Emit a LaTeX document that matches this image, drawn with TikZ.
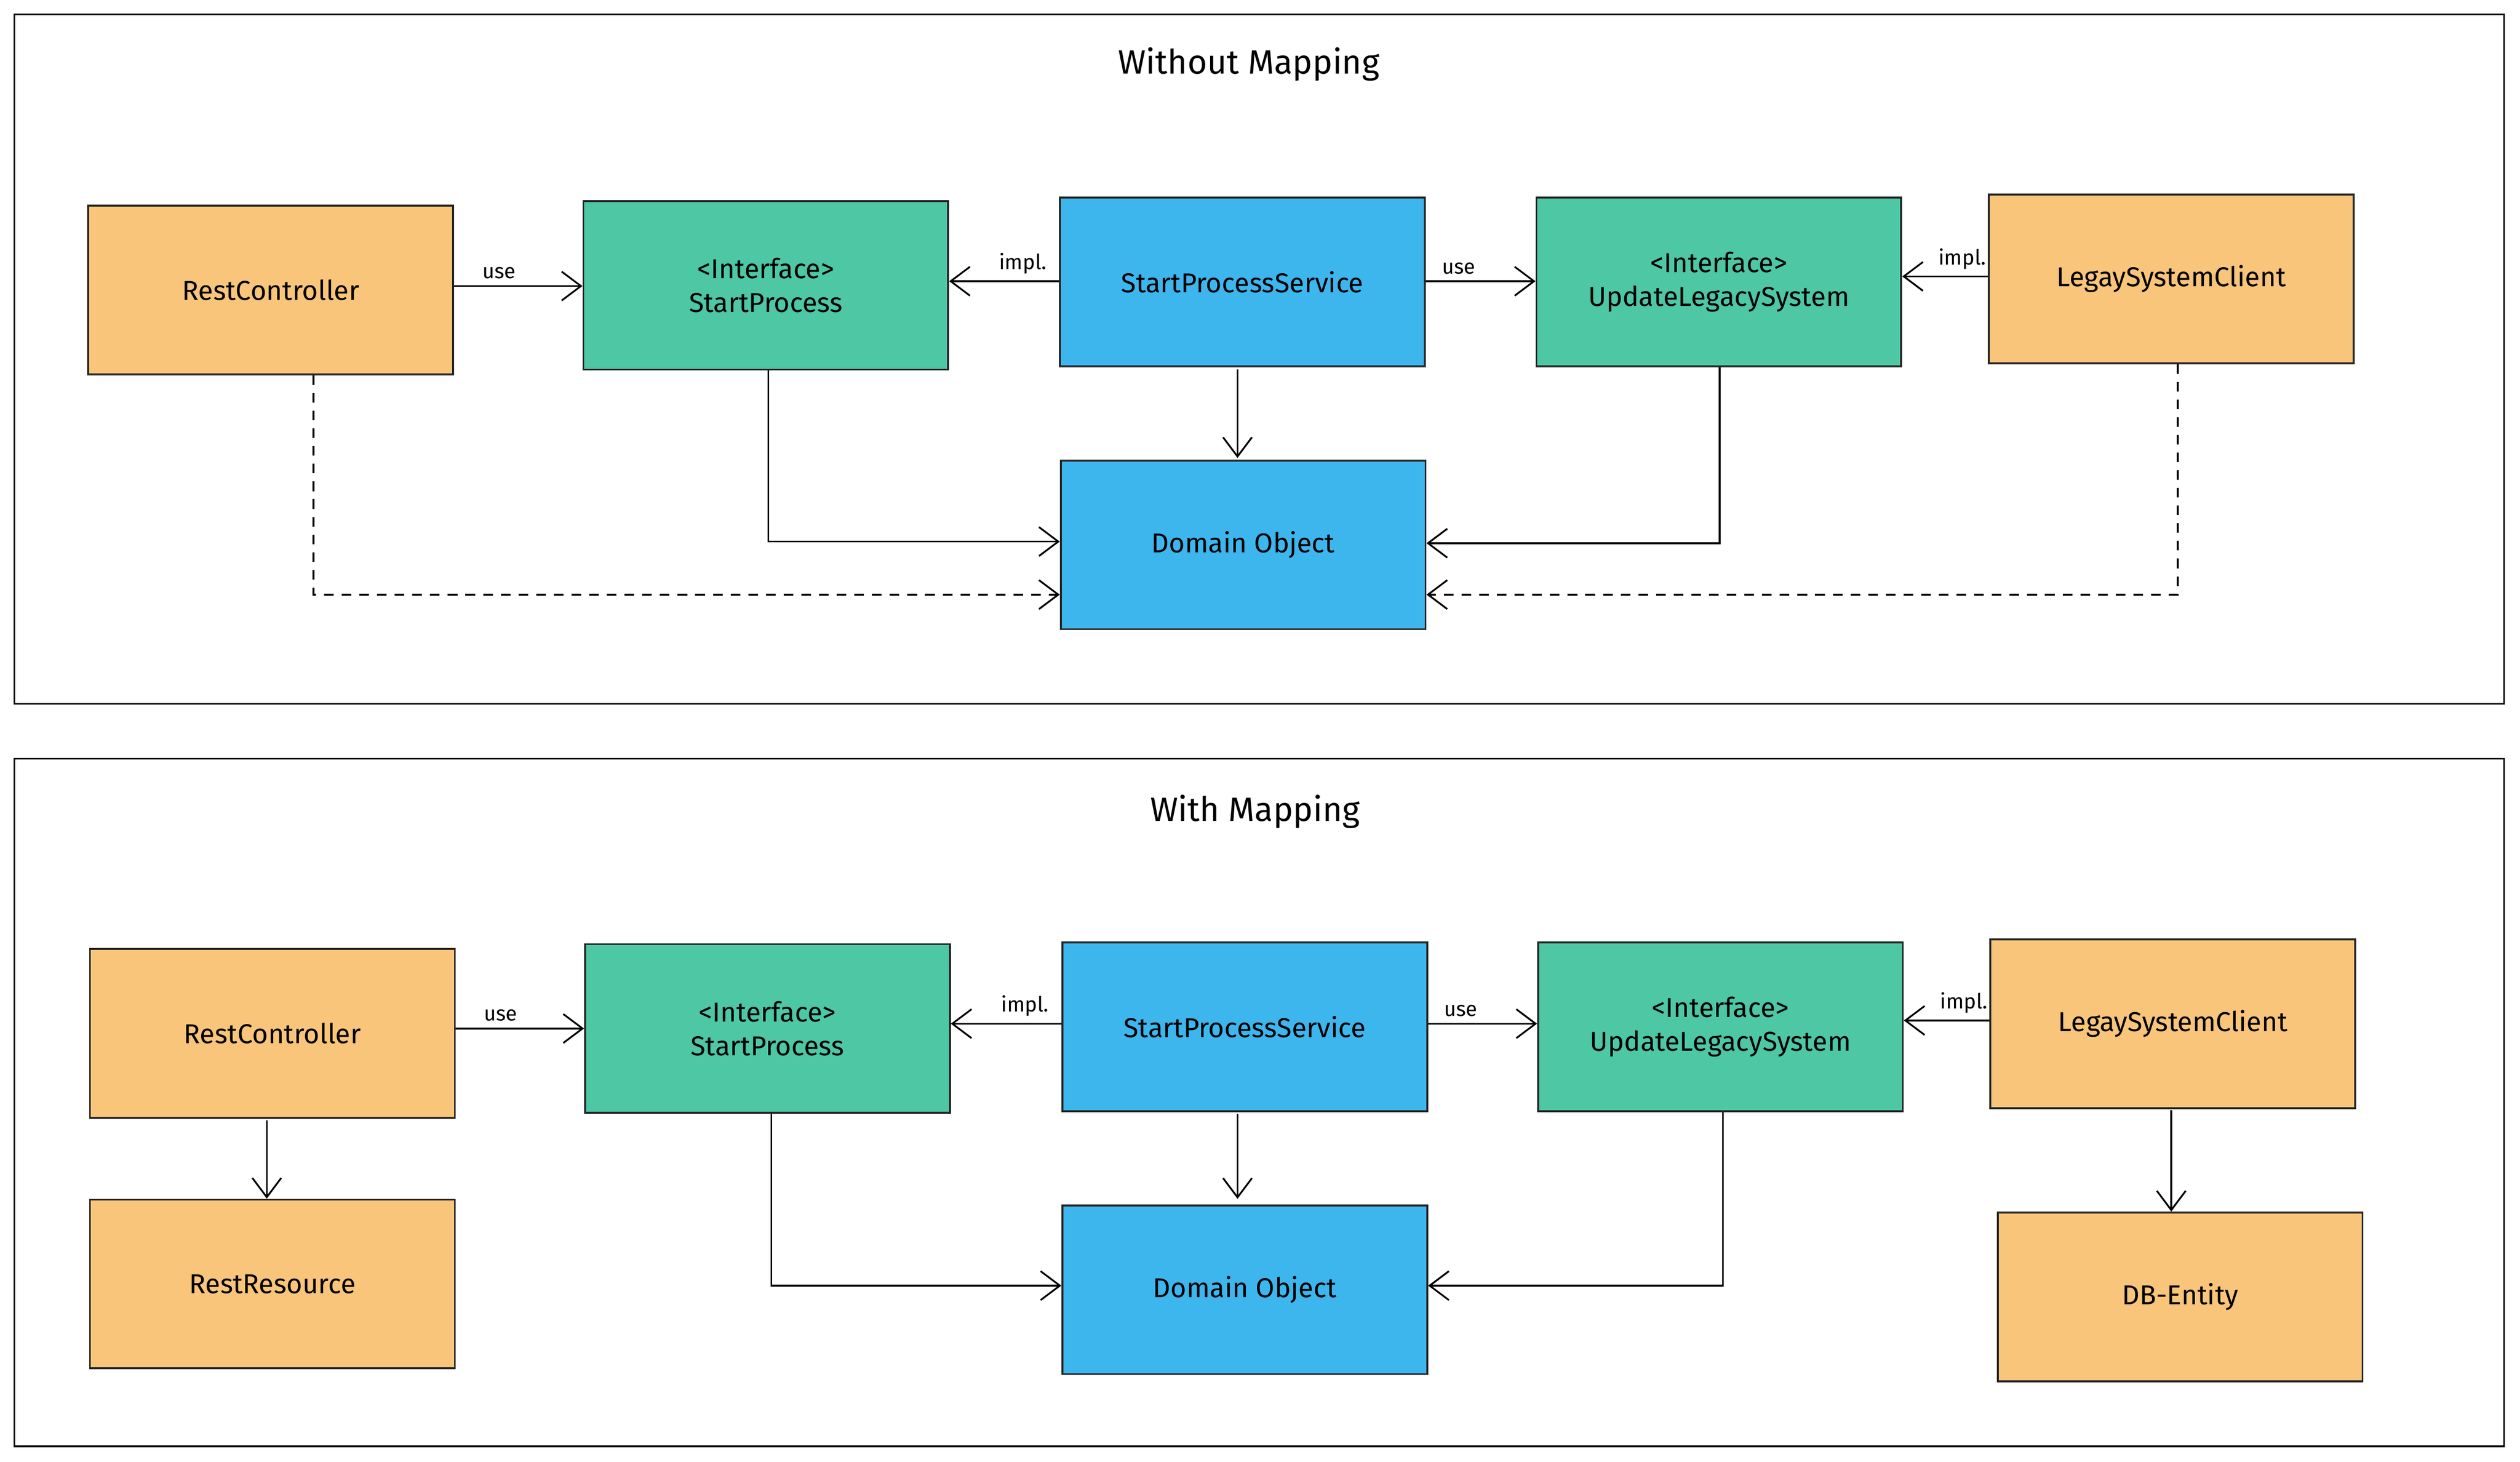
\documentclass[tikz,border=0pt]{standalone}
\usepackage{fontspec}
\setmainfont{Fira Sans}
\usetikzlibrary{arrows.meta,patterns}
\definecolor{org}{HTML}{F8C57A}
\definecolor{tea}{HTML}{4DC7A4}
\definecolor{blu}{HTML}{3DB6EE}
\begin{document}
\begin{tikzpicture}[x=1pt,y=-1pt,
  box/.style={draw=black!85,line width=1.2pt,minimum width=227pt,minimum height=105pt,align=center,font=\fontsize{17}{21}\selectfont,inner sep=0pt},
  o/.style={box,fill=org},
  t/.style={box,fill=tea},
  b/.style={box,fill=blu},
  ar/.style={line width=1.1pt,-{Straight Barb[length=12pt,width=18pt]}},
  da/.style={ar,dash pattern=on 6pt off 5pt},
  lb/.style={font=\fontsize{13}{15}\selectfont,inner sep=4pt}]
\useasboundingbox (0,0) rectangle (1568,909.7);
\fill[white] (0,0) rectangle (1568,909.7);
\draw[line width=1pt] (9,9) rectangle (1558,438);
\draw[line width=1pt] (9,472) rectangle (1558,900);
\node[font=\fontsize{21}{25}\selectfont] (t1) at (777,40) {Without Mapping};
\node[font=\fontsize{21}{25}\selectfont] (t2) at (781,505) {With Mapping};
% top
\node[o] (rc) at (168.5,180.5) {RestController};
\node[t] (sp) at (476.5,177.5) {<Interface>\\StartProcess};
\node[b] (sps) at (773,175.5) {StartProcessService};
\node[t] (uls) at (1069.5,175.5) {<Interface>\\UpdateLegacySystem};
\node[o] (lsc) at (1351,173.5) {LegaySystemClient};
\node[b] (dom) at (773.5,339) {Domain Object};
\draw[ar] (rc.east|-0,178) -- node[lb,above,pos=0.35]{use} (sp.west|-0,178);
\draw[ar] (sps.west|-0,175) -- node[lb,above,pos=0.33]{impl.} (sp.east|-0,175);
\draw[ar] (sps.east|-0,175) -- node[lb,above,pos=0.3]{use} (uls.west|-0,175);
\draw[ar] (lsc.west|-0,172) -- node[lb,above,pos=0.3]{impl.} (uls.east|-0,172);
\draw[ar] (770,230) -- (770,285);
\coordinate (c1) at (478,337); \coordinate (c2) at (1070,338);
\coordinate (c3) at (195,370); \coordinate (c4) at (1355,370);
\draw[ar] (sp.south-|c1) -- (c1) -- (dom.west|-c1);
\draw[ar] (uls.south-|c2) -- (c2) -- (dom.east|-c2);
\draw[da] (rc.south-|c3) -- (c3) -- (dom.west|-c3);
\draw[da] (lsc.south-|c4) -- (c4) -- (dom.east|-c4);
% bottom
\node[o] (rc2) at (169.5,643) {RestController};
\node[o] (rr) at (169.5,799) {RestResource};
\node[t] (sp2) at (477.5,640) {<Interface>\\StartProcess};
\node[b] (sps2) at (774.5,639) {StartProcessService};
\node[t] (uls2) at (1070.5,639) {<Interface>\\UpdateLegacySystem};
\node[o] (lsc2) at (1352,637) {LegaySystemClient};
\node[o] (db) at (1356.5,807) {DB-Entity};
\node[b] (dom2) at (774.5,802.5) {Domain Object};
\draw[ar] (rc2.east|-0,640) -- node[lb,above,pos=0.35]{use} (sp2.west|-0,640);
\draw[ar] (sps2.west|-0,637) -- node[lb,above,pos=0.33]{impl.} (sp2.east|-0,637);
\draw[ar] (sps2.east|-0,637) -- node[lb,above,pos=0.3]{use} (uls2.west|-0,637);
\draw[ar] (lsc2.west|-0,635) -- node[lb,above,pos=0.3]{impl.} (uls2.east|-0,635);
\draw[ar] (770,693) -- (770,746);
\draw[ar] (166,697) -- (rr.north-|166,0);
\draw[ar] (1351,691) -- (db.north-|1351,0);
\coordinate (d1) at (480,800); \coordinate (d2) at (1072,800);
\draw[ar] (sp2.south-|d1) -- (d1) -- (dom2.west|-d1);
\draw[ar] (uls2.south-|d2) -- (d2) -- (dom2.east|-d2);
\end{tikzpicture}
\end{document}
